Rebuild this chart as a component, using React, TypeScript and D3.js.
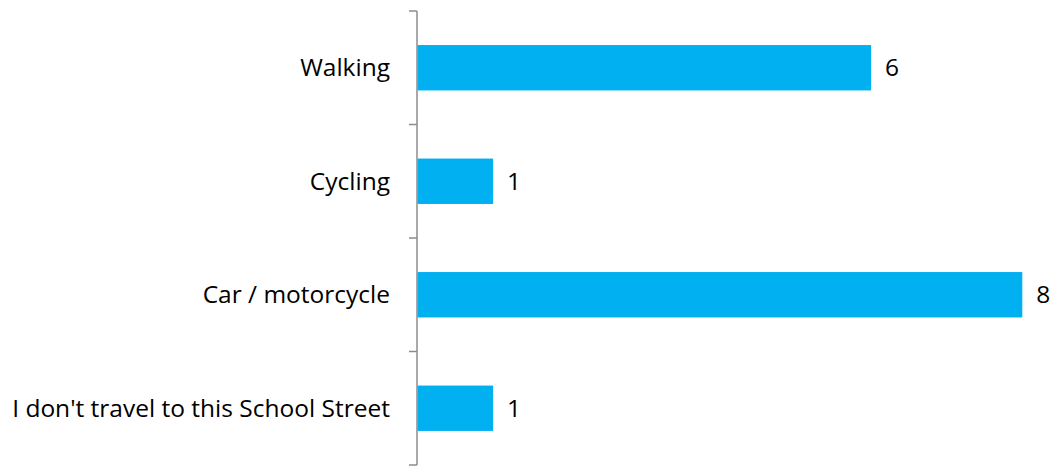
import React from "react";
import * as d3 from "d3";

const categories = ["Walking", "Cycling", "Car / motorcycle", "I don't travel to this School Street"];
const values = [6, 1, 8, 1];

const W = 1054;
const H = 466;
const axisX = 417;
const top = 11;
const bottom = 465;

export default function App() {
  const y = d3.scaleBand<string>().domain(categories).range([top, bottom]).paddingInner(0.6).paddingOuter(0.3);
  const band = d3.scaleBand<string>().domain(categories).range([top, bottom]);
  const x = d3.scaleLinear().domain([0, 8]).range([axisX, axisX + 8 * 75.6]);
  const ticks = d3.range(categories.length + 1).map((i) => top + i * band.step());
  const font = "'Open Sans', sans-serif";
  const fs = 24.5;
  return (
    <svg width={W} height={H} style={{ position: "absolute", left: 0, top: 0 }}>
      <rect width={W} height={H} fill="#fff" />
      {categories.map((c, i) => (
        <g key={c}>
          <rect x={x(0) + 0.5} y={y(c)!} width={x(values[i]) - x(0)} height={y.bandwidth()} fill="#00B0F0" />
          <text x={x(values[i]) + 14.5} y={y(c)! + y.bandwidth() / 2} dy="0.35em" fontFamily={font} fontSize={fs} fill="#000">
            {values[i]}
          </text>
          <text x={390} y={y(c)! + y.bandwidth() / 2} dy="0.35em" textAnchor="end" fontFamily={font} fontSize={fs} fill="#000">
            {c}
          </text>
        </g>
      ))}
      <line x1={axisX} x2={axisX} y1={top} y2={bottom} stroke="#8c8c8c" strokeWidth={1.5} />
      {ticks.map((t, i) => (
        <line key={i} x1={axisX - 8} x2={axisX} y1={t} y2={t} stroke="#8c8c8c" strokeWidth={1.5} />
      ))}
    </svg>
  );
}
